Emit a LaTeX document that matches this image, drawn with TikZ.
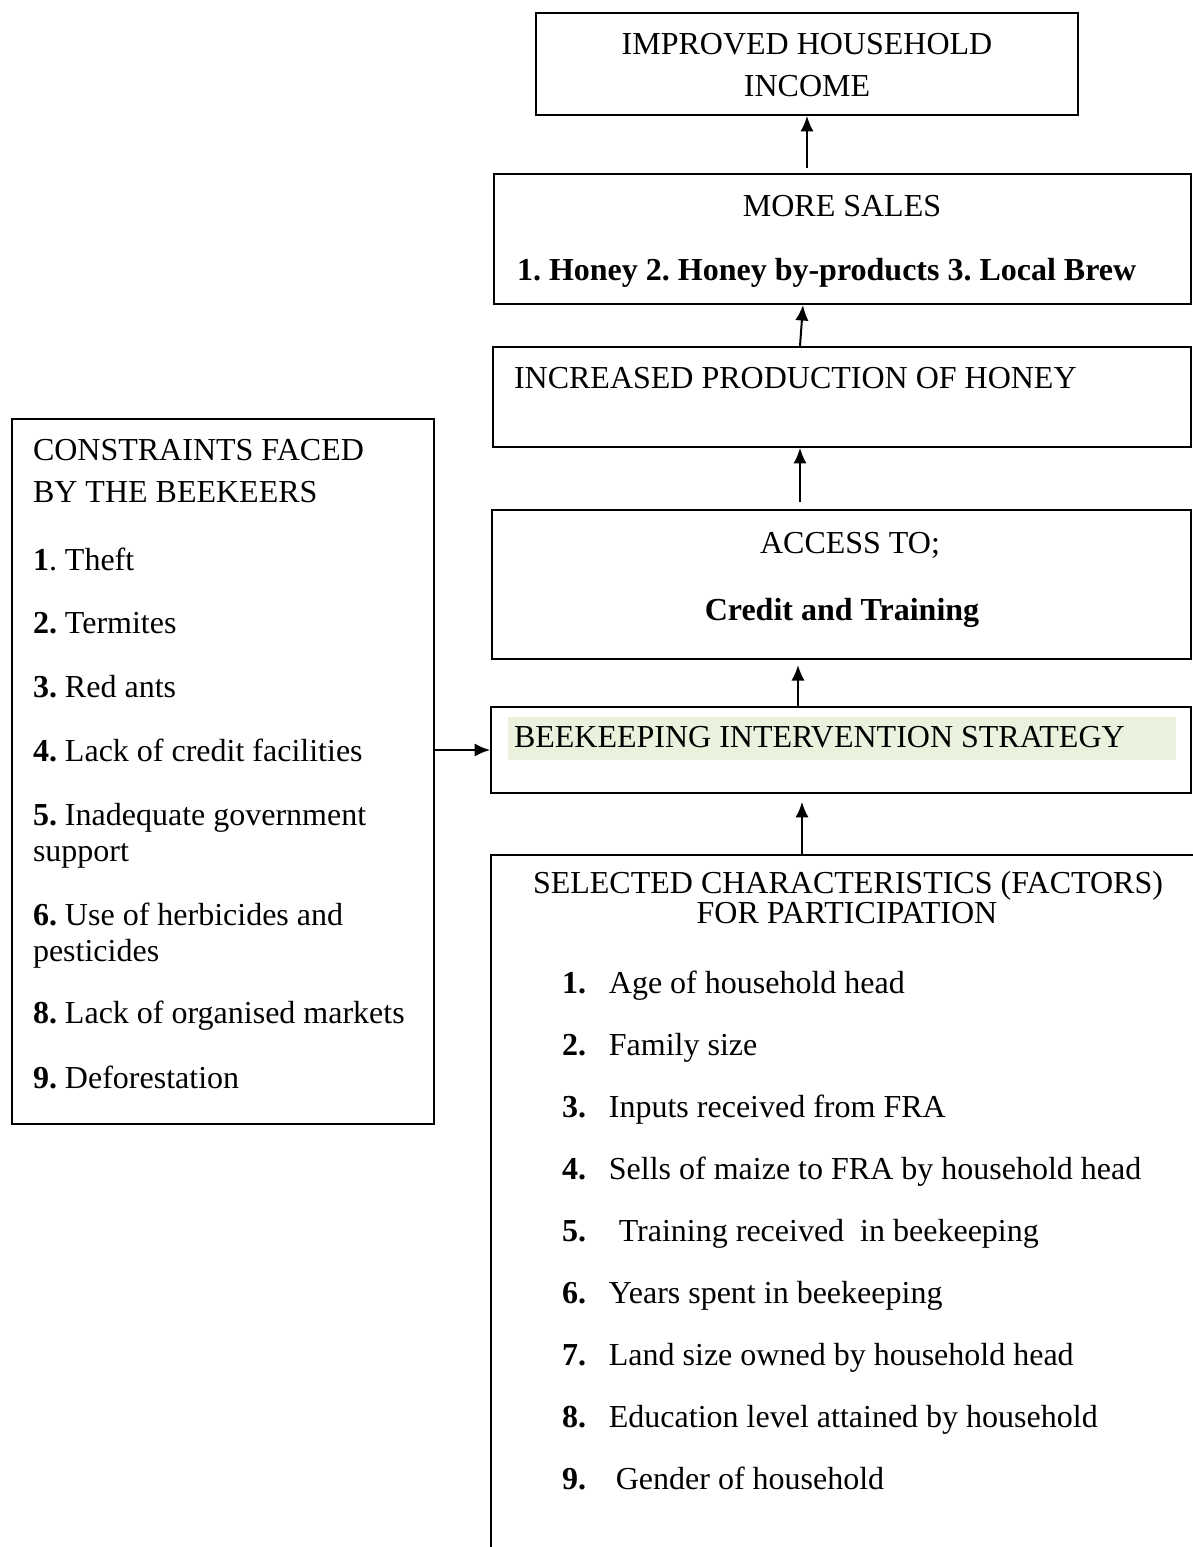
\documentclass[tikz,border=0pt]{standalone}
\usepackage{fontspec}
\setmainfont{Liberation Serif}
\usepackage{xcolor}
\definecolor{hlgreen}{HTML}{EAF1DD}
\usetikzlibrary{arrows.meta}

\begin{document}
\begin{tikzpicture}[x=0.375pt,y=-0.375pt,>={Latex[length=5.8pt,width=5pt]},
    font=\fontsize{12}{14}\selectfont\frenchspacing,line width=0.75pt,
    box/.style={draw,rectangle,inner sep=0pt},
    ctext/.style={inner sep=0pt,anchor=base},
    ltext/.style={inner sep=0pt,anchor=base west}]
  \useasboundingbox (0,0) rectangle (1193,1547);
  % ---------------- chain of boxes on the right
  \node[box,minimum width=203.25pt,minimum height=38.25pt] (income) at (807,64) {};
  \node[ctext] (income1) at (807,54) {IMPROVED HOUSEHOLD};
  \node[ctext] (income2) at (807,96) {INCOME};
  \node[box,minimum width=261.4pt,minimum height=48.75pt] (sales) at (842.5,239) {};
  \node[ctext] (sales1) at (842,216) {MORE SALES};
  \node[ltext] (sales2) at (516,280) {\textbf{1. Honey 2. Honey by-products 3. Local Brew}};
  \node[box,minimum width=261.75pt,minimum height=37.5pt] (prod) at (842,397) {};
  \node[ltext] (prod1) at (513,388) {INCREASED PRODUCTION OF HONEY};
  \node[box,minimum width=262.1pt,minimum height=55.9pt] (access) at (841.5,584.5) {};
  \node[ctext] (access1) at (850,553) {ACCESS TO;};
  \node[ctext] (access2) at (842,620) {\textbf{Credit and Training}};
  \node[box,minimum width=262.5pt,minimum height=32.25pt] (bee) at (841,750) {};
  \node[fill=hlgreen,inner sep=0pt,minimum width=250.5pt,minimum height=16.1pt] (hl) at (842,738.5) {};
  \node[ltext] (bee1) at (513,747) {BEEKEEPING INTERVENTION STRATEGY};
  % ---------------- open box of factors
  \coordinate (sel) at (802,855);
  \draw (491,1560) -- (491,855) -- (1200,855);
  \node[ctext] (sel1) at (848,893) {SELECTED CHARACTERISTICS (FACTORS)};
  \node[ctext] (sel2) at (847,923) {FOR PARTICIPATION};
  \node[ltext] (f1) at (561,993) {\textbf{1.}\hspace{8.6pt}Age of household head};
  \node[ltext] (f2) at (561,1055) {\textbf{2.}\hspace{8.6pt}Family size};
  \node[ltext] (f3) at (561,1117) {\textbf{3.}\hspace{8.6pt}Inputs received from FRA};
  \node[ltext] (f4) at (561,1179) {\textbf{4.}\hspace{8.6pt}Sells of maize to FRA by household head};
  \node[ltext] (f5) at (561,1241) {\textbf{5.}\hspace{12.3pt}Training received\ \ in beekeeping};
  \node[ltext] (f6) at (561,1303) {\textbf{6.}\hspace{8.6pt}Years spent in beekeeping};
  \node[ltext] (f7) at (561,1365) {\textbf{7.}\hspace{8.6pt}Land size owned by household head};
  \node[ltext] (f8) at (561,1427) {\textbf{8.}\hspace{8.6pt}Education level attained by household};
  \node[ltext] (f9) at (561,1489) {\textbf{9.}\hspace{11.2pt}Gender of household};
  % ---------------- constraints on the left
  \node[box,minimum width=158.25pt,minimum height=264.4pt] (cons) at (223,771.5) {};
  \node[ltext] (c0a) at (32,460) {CONSTRAINTS FACED};
  \node[ltext] (c0b) at (32,502) {BY THE BEEKEERS};
  \node[ltext] (c1) at (32,570) {\textbf{1}. Theft};
  \node[ltext] (c2) at (32,633) {\textbf{2.} Termites};
  \node[ltext] (c3) at (32,697) {\textbf{3.} Red ants};
  \node[ltext] (c4) at (32,761) {\textbf{4.} Lack of credit facilities};
  \node[ltext] (c5a) at (32,825) {\textbf{5.} Inadequate government};
  \node[ltext] (c5b) at (32,861) {support};
  \node[ltext] (c6a) at (32,925) {\textbf{6.} Use of herbicides and};
  \node[ltext] (c6b) at (32,961) {pesticides};
  \node[ltext] (c8) at (32,1023) {\textbf{8.} Lack of organised markets};
  \node[ltext] (c9) at (32,1088) {\textbf{9.} Deforestation};
  % ---------------- arrows
  \draw[->,shorten <=1.9pt] (income.south |- sales.north) -- (income.south);
  \draw[->] (prod.north -| 800,0) -- (sales.south -| 803,0);
  \draw[->,shorten <=2.6pt] (access.north -| 800,0) -- (prod.south -| 800,0);
  \draw[->,shorten >=1.9pt] (bee.north -| 798,0) -- (access.south -| 798,0);
  \draw[->,shorten >=3pt] (sel) -- (bee.south -| sel);
  \draw[->] (cons.east |- bee.west) -- (bee.west);
\end{tikzpicture}
\end{document}
